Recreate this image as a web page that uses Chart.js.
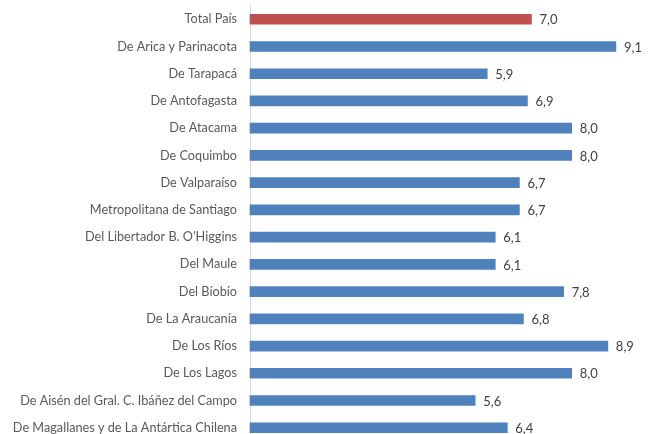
<!DOCTYPE html>
<html>
<head>
<meta charset="utf-8">
<script src="https://cdn.jsdelivr.net/npm/chart.js@4.4.1/dist/chart.umd.min.js"></script>
<style>
  html, body { margin: 0; padding: 0; background: #ffffff; overflow: hidden; width: 648px; height: 434px; }
  #wrap { width: 648px; height: 451px; margin-top: -2px; }
</style>
</head>
<body>
<div id="wrap"><canvas id="c" width="648" height="451"></canvas></div>
<script>
const categories = [
  "Total País",
  "De Arica y Parinacota",
  "De Tarapacá",
  "De Antofagasta",
  "De Atacama",
  "De Coquimbo",
  "De Valparaíso",
  "Metropolitana de Santiago",
  "Del Libertador B. O'Higgins",
  "Del Maule",
  "Del Bíobío",
  "De La Araucanía",
  "De Los Ríos",
  "De Los Lagos",
  "De Aisén del Gral. C. Ibáñez del Campo",
  "De Magallanes y de La Antártica Chilena"
];
const values = [7.0, 9.1, 5.9, 6.9, 8.0, 8.0, 6.7, 6.7, 6.1, 6.1, 7.8, 6.8, 8.9, 8.0, 5.6, 6.4];
const totalColor = "#C0504D";
const regionColor = "#4F81BD";
const barColors = categories.map((c, i) => i === 0 ? totalColor : regionColor);

const FONT = "Lato, 'Noto Sans', sans-serif";

const valueLabels = {
  id: 'valueLabels',
  afterDatasetsDraw(chart) {
    const ctx = chart.ctx;
    const meta = chart.getDatasetMeta(0);
    ctx.save();
    ctx.font = "13px " + FONT;
    ctx.fillStyle = "#404040";
    ctx.textAlign = "left";
    ctx.textBaseline = "middle";
    meta.data.forEach((bar, i) => {
      const txt = values[i].toFixed(1).replace('.', ',');
      ctx.fillText(txt, bar.x + 8, bar.y + 1);
    });
    ctx.restore();
  }
};

new Chart(document.getElementById('c'), {
  type: 'bar',
  data: {
    labels: categories,
    datasets: [{
      data: values,
      backgroundColor: barColors,
      borderWidth: 0,
      barThickness: 10,
      clip: false
    }]
  },
  options: {
    indexAxis: 'y',
    responsive: false,
    devicePixelRatio: 1,
    animation: false,
    layout: { padding: { top: 0, right: 12, bottom: 0, left: 0 } },
    plugins: {
      legend: { display: false },
      tooltip: { enabled: false }
    },
    scales: {
      x: {
        display: false,
        min: 0,
        max: 9.6
      },
      y: {
        grid: { display: true, drawOnChartArea: false, drawTicks: true, tickLength: 13, color: 'rgba(0,0,0,0)' },
        border: { display: true, color: "#D9D9D9", width: 1 },
        ticks: {
          color: "#595959",
          font: { family: FONT, size: 12.7 },
          padding: 0
        },
        afterFit(scale) { scale.width = 250; }
      }
    }
  },
  plugins: [valueLabels]
});
</script>
</body>
</html>
